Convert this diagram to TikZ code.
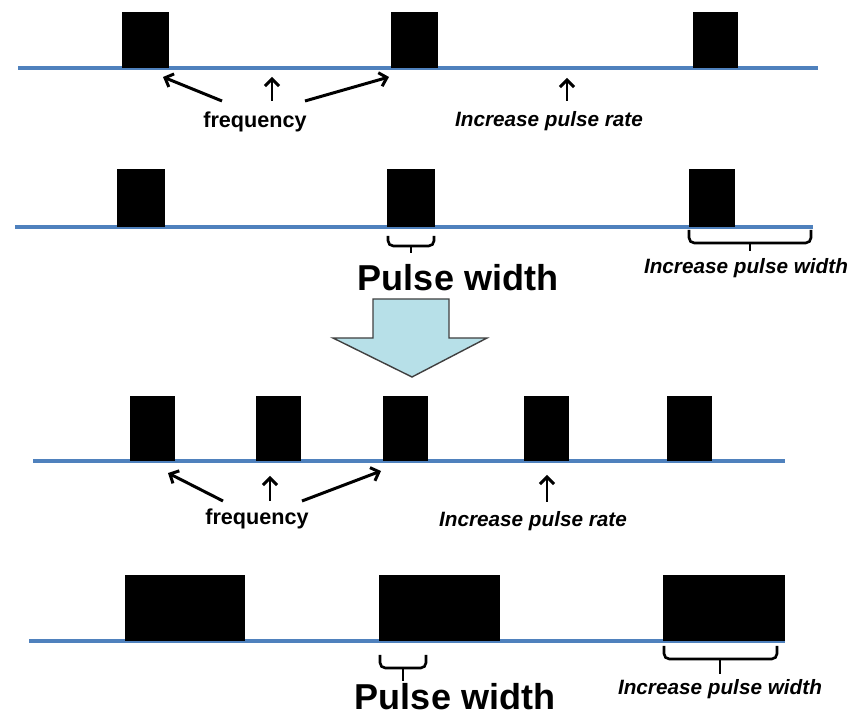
\documentclass[tikz,border=0pt]{standalone}
\usepackage{fontspec}
\setmainfont{Liberation Sans}
\usetikzlibrary{arrows.meta,positioning,calc}

\definecolor{lineblue}{RGB}{79,129,189}
\definecolor{arrowcyan}{RGB}{183,224,232}

\begin{document}
\begin{tikzpicture}[x=0.02cm, y=-0.02cm, >={Straight Barb[length=4pt,width=8pt]},
    axis/.style={draw=lineblue, line width=2pt},
    pulse/.style={fill=black, inner sep=0pt, anchor=south west},
    pointer/.style={->, line width=1.7pt},
    bracket/.style={line width=1.5pt, rounded corners=3pt},
    freqlbl/.style={anchor=base, font=\fontsize{12.3}{14}\selectfont\bfseries},
    ratelbl/.style={anchor=base, font=\fontsize{11.8}{14}\selectfont\bfseries\itshape},
    widthlbl/.style={anchor=base, font=\fontsize{20.5}{24}\selectfont\bfseries}]
    \useasboundingbox (0,0) rectangle (856,715);

    % first row: pulse rate
    \coordinate (b1s) at (18,68);
    \coordinate (b1e) at (818,68);
    \draw[axis] (b1s) -- (b1e);
    \node[pulse, minimum width=0.94cm, minimum height=1.12cm] (p11) at (122,68) {};
    \node[pulse, minimum width=0.94cm, minimum height=1.12cm] (p12) at (391,68) {};
    \node[pulse, minimum width=0.9cm, minimum height=1.12cm] (p13) at (693,68) {};
    \node[freqlbl] (f1) at (255,128) {frequency};
    \node[ratelbl] (r1) at (549,127) {Increase pulse rate};
    \coordinate (f1l) at (222,101);
    \coordinate (f1m) at (272,101);
    \coordinate (f1r) at (305,101);
    \coordinate (t1l) at (163,77);
    \coordinate (t1m) at (272,77);
    \coordinate (t1r) at (389,77);
    \coordinate (r1s) at (567,101);
    \coordinate (r1t) at (567,78);
    \draw[pointer] (f1l) -- (t1l);
    \draw[pointer] (f1m) -- (t1m);
    \draw[pointer] (f1r) -- (t1r);
    \draw[pointer] (r1s) -- (r1t);

    % second row: pulse width
    \coordinate (b2s) at (15,227);
    \coordinate (b2e) at (813,227);
    \draw[axis] (b2s) -- (b2e);
    \node[pulse, minimum width=0.96cm, minimum height=1.16cm] (p21) at (117,227) {};
    \node[pulse, minimum width=0.96cm, minimum height=1.16cm] (p22) at (387,227) {};
    \node[pulse, minimum width=0.92cm, minimum height=1.16cm] (p23) at (689,227) {};
    \draw[bracket] (388,236) |- (411,246) -| (434,236);
    \draw[bracket] (411,246) -- (411,253);
    \draw[bracket] (689,230) |- (750,243) -| (811,230);
    \draw[bracket] (750,243) -- (750,251);
    \node[widthlbl] (w2) at (458,291) {Pulse width};
    \node[ratelbl] (r2) at (746,274) {Increase pulse width};

    % big arrow between the two halves
    \filldraw[fill=arrowcyan, draw=black!75, line width=0.8pt]
        (373,299) -- (449,299) -- (449,338) -- (487,338) -- (412,377)
        -- (333,338) -- (373,338) -- cycle;

    % third row: higher pulse rate
    \coordinate (b3s) at (33,461);
    \coordinate (b3e) at (785,461);
    \draw[axis] (b3s) -- (b3e);
    \node[pulse, minimum width=0.9cm, minimum height=1.3cm] (p31) at (130,461) {};
    \node[pulse, minimum width=0.9cm, minimum height=1.3cm] (p32) at (256,461) {};
    \node[pulse, minimum width=0.9cm, minimum height=1.3cm] (p33) at (383,461) {};
    \node[pulse, minimum width=0.9cm, minimum height=1.3cm] (p34) at (524,461) {};
    \node[pulse, minimum width=0.9cm, minimum height=1.3cm] (p35) at (667,461) {};
    \node[freqlbl] (f3) at (257,525) {frequency};
    \node[ratelbl] (r3) at (533,527) {Increase pulse rate};
    \coordinate (f3l) at (223,501);
    \coordinate (f3m) at (270,501);
    \coordinate (f3r) at (302,501);
    \coordinate (t3l) at (168,473);
    \coordinate (t3m) at (270,476);
    \coordinate (t3r) at (381,471);
    \coordinate (r3s) at (547,502);
    \coordinate (r3t) at (547,475);
    \draw[pointer] (f3l) -- (t3l);
    \draw[pointer] (f3m) -- (t3m);
    \draw[pointer] (f3r) -- (t3r);
    \draw[pointer] (r3s) -- (r3t);

    % fourth row: wider pulses
    \coordinate (b4s) at (29,641);
    \coordinate (b4e) at (785,641);
    \draw[axis] (b4s) -- (b4e);
    \node[pulse, minimum width=2.4cm, minimum height=1.32cm] (p41) at (125,641) {};
    \node[pulse, minimum width=2.42cm, minimum height=1.32cm] (p42) at (379,641) {};
    \node[pulse, minimum width=2.44cm, minimum height=1.32cm] (p43) at (663,641) {};
    \draw[bracket] (380,655) |- (403,668) -| (426,655);
    \draw[bracket] (403,668) -- (403,681);
    \draw[bracket] (664,646) |- (720,659) -| (777,646);
    \draw[bracket] (720,659) -- (720,674);
    \node[widthlbl] (w4) at (455,710) {Pulse width};
    \node[ratelbl] (r4) at (720,695) {Increase pulse width};
\end{tikzpicture}
\end{document}
